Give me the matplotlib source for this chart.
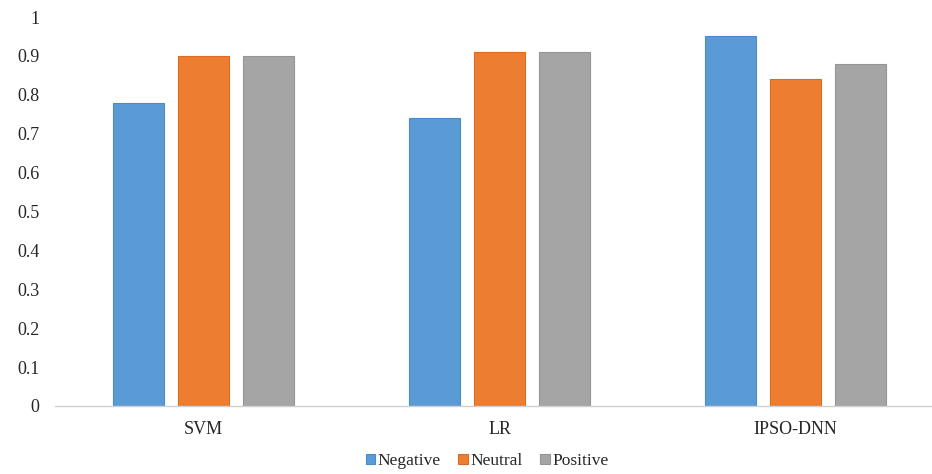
import matplotlib
matplotlib.use("Agg")
import matplotlib.pyplot as plt
import numpy as np

models = ["SVM", "LR", "IPSO-DNN"]
negative = [0.78, 0.74, 0.95]
neutral = [0.90, 0.91, 0.84]
positive = [0.90, 0.91, 0.88]
y_ticks = [0, 0.1, 0.2, 0.3, 0.4, 0.5, 0.6, 0.7, 0.8, 0.9, 1]
y_tick_labels = ["0", "0.1", "0.2", "0.3", "0.4", "0.5", "0.6", "0.7", "0.8", "0.9", "1"]

plt.rcParams["font.family"] = ["Liberation Serif", "DejaVu Serif"]

W, H = 932, 474
fig = plt.figure(figsize=(W / 100, H / 100), dpi=100)
ax = fig.add_axes([55 / W, (H - 406) / H, 1 - 55 / W, (406 - 17) / H])

x = np.arange(len(models))
width = 0.172
offset = 0.22
series = [
    ("Negative", negative, "#5B9BD5", "#4A8AC8"),
    ("Neutral", neutral, "#ED7D31", "#DD6C20"),
    ("Positive", positive, "#A5A5A5", "#959595"),
]
for i, (name, vals, fc, ec) in enumerate(series):
    ax.bar(x + (i - 1) * offset, vals, width, color=fc, edgecolor=ec,
           linewidth=0.8, label=name, zorder=2)

ax.set_ylim(0, 1)
ax.set_xlim(-0.502, 2.461)
ax.set_yticks(y_ticks)
ax.set_yticklabels(y_tick_labels)
ax.set_xticks(x)
ax.set_xticklabels(models)
ax.tick_params(axis="y", length=0, pad=11, labelsize=13, labelcolor="#262626")
ax.tick_params(axis="x", length=0, pad=11, labelsize=13, labelcolor="#262626")

for side in ["top", "right", "left"]:
    ax.spines[side].set_visible(False)
ax.spines["bottom"].set_color("#D0D0D0")
ax.spines["bottom"].set_linewidth(1.0)

leg = fig.legend(loc="center", bbox_to_anchor=(487 / W, (H - 461) / H), ncol=3,
                 frameon=False, fontsize=12.5, handlelength=0.55, handleheight=0.55,
                 handletextpad=0.15, columnspacing=1.0)
for t in leg.get_texts():
    t.set_color("#262626")

fig.savefig("out.png", dpi=100)
